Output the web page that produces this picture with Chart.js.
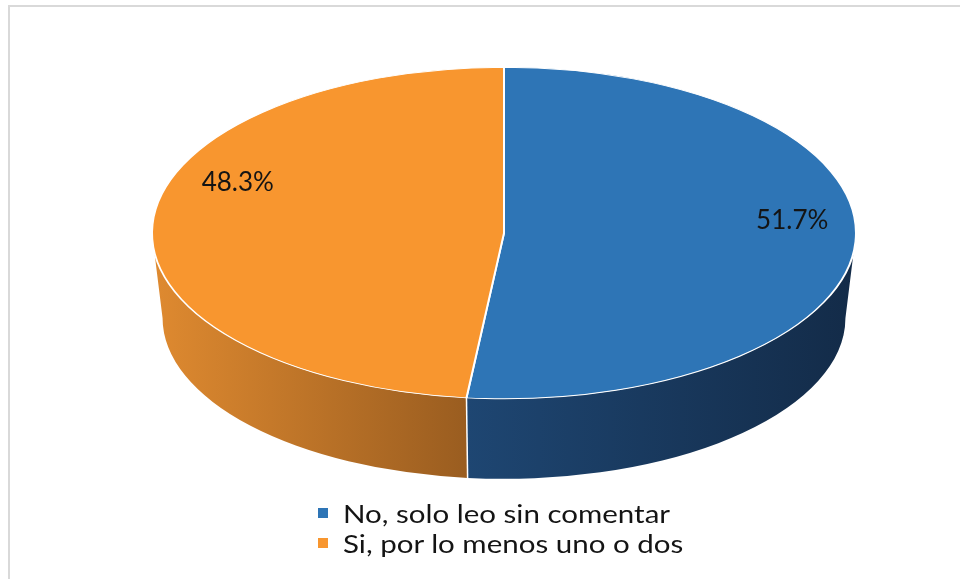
<!DOCTYPE html>
<html>
<head>
<meta charset="utf-8">
<script src="https://cdn.jsdelivr.net/npm/chart.js@4.4.1/dist/chart.umd.min.js"></script>
<style>
  html, body { margin: 0; padding: 0; background: #fff; }
  #wrap { position: relative; width: 960px; height: 579px; overflow: hidden; }
  #frame {
    position: absolute; left: 8px; top: 5px; width: 1000px; height: 620px;
    border-left: 2px solid #d9d9d9; border-top: 2px solid #d9d9d9;
  }
  #pie { position: absolute; left: 0; top: 0; }
  #legend {
    position: absolute; left: 318px; top: 498px;
    font-family: Lato, sans-serif; font-size: 25px; color: #141414;
  }
  .row { display: flex; align-items: center; height: 30px; white-space: nowrap; }
  .swatch { width: 10px; height: 10px; margin-right: 15px; flex: none; }
  .name { display: inline-block; transform: scaleX(1.18); transform-origin: 0 50%; }
</style>
</head>
<body>
<div id="wrap">
  <div id="frame"></div>
  <canvas id="pie" width="960" height="579"></canvas>
  <div id="legend"></div>
</div>
<script>
const categories = ['No, solo leo sin comentar', 'Si, por lo menos uno o dos'];
const shares = [51.7, 48.3];
const topColors = ['#2e75b6', '#f8962f'];
// side wall shading, left to right
const sideColors = [['#1e4672', '#132b48'], ['#df8a30', '#9a5d20']];

// tilted pie: squash the flat pie into an ellipse and extrude a wall under the front half
const tiltPie = {
  id: 'tiltPie',
  beforeDatasetsDraw(chart, args, opts) {
    const ctx = chart.ctx;
    const arcs = chart.getDatasetMeta(0).data;
    const { x: cx, y: cy, outerRadius: rx } = arcs[0];
    const ry = rx * opts.squash;
    const by = cy + opts.depth, brx = rx * opts.taper, bry = ry * opts.taper;

    ctx.save();
    arcs.forEach((arc, i) => {
      const s = Math.max(arc.startAngle, 0);
      const e = Math.min(arc.endAngle, Math.PI);
      if (e <= s) return;
      const xa = cx + rx * Math.cos(s), xb = cx + rx * Math.cos(e);
      const grad = ctx.createLinearGradient(Math.min(xa, xb), 0, Math.max(xa, xb), 0);
      grad.addColorStop(0, sideColors[i][0]);
      grad.addColorStop(1, sideColors[i][1]);
      ctx.beginPath();
      ctx.ellipse(cx, cy, rx, ry, 0, s, e);
      ctx.ellipse(cx, by, brx, bry, 0, e, s, true);
      ctx.closePath();
      ctx.fillStyle = grad;
      ctx.fill();
    });
    // white seams where slices meet on the wall
    ctx.strokeStyle = '#fff';
    ctx.lineWidth = 1.5;
    arcs.forEach((arc) => {
      const a = arc.endAngle;
      if (a <= 0 || a >= Math.PI) return;
      ctx.beginPath();
      ctx.moveTo(cx + rx * Math.cos(a), cy + ry * Math.sin(a));
      ctx.lineTo(cx + brx * Math.cos(a), by + bry * Math.sin(a));
      ctx.stroke();
    });
    ctx.restore();

    ctx.save();
    ctx.translate(cx, cy);
    ctx.scale(1, opts.squash);
    ctx.translate(-cx, -cy);
  },
  afterDatasetsDraw(chart) {
    chart.ctx.restore();
  },
  afterDraw(chart, args, opts) {
    const ctx = chart.ctx;
    const arcs = chart.getDatasetMeta(0).data;
    const values = chart.data.datasets[0].data;
    ctx.save();
    ctx.font = opts.labelFont;
    ctx.fillStyle = opts.labelColor;
    ctx.textAlign = 'center';
    ctx.textBaseline = 'middle';
    arcs.forEach((arc, i) => {
      const mid = (arc.startAngle + arc.endAngle) / 2;
      const r = arc.outerRadius * opts.labelRadius;
      const x = arc.x + r * Math.cos(mid) + opts.labelNudge[i][0];
      const y = arc.y + r * opts.squash * Math.sin(mid) + opts.labelNudge[i][1];
      ctx.fillText(values[i].toFixed(1) + '%', x, y);
    });
    ctx.restore();
  }
};

const chart = new Chart(document.getElementById('pie'), {
  type: 'pie',
  data: {
    labels: categories,
    datasets: [{
      data: shares,
      backgroundColor: topColors,
      borderColor: '#ffffff',
      borderWidth: 2,
      radius: 352,
      clip: false
    }]
  },
  options: {
    responsive: false,
    animation: false,
    layout: { padding: { left: 48, right: 0, top: 0, bottom: 113 } },
    plugins: {
      legend: { display: false },
      tooltip: { enabled: false },
      tiltPie: {
        squash: 0.471,
        depth: 85,
        taper: 0.97,
        labelRadius: 0.82,
        labelNudge: [[0, -20], [22, -43]],
        labelFont: '26px Lato',
        labelColor: '#141414'
      }
    }
  },
  plugins: [tiltPie]
});

const legend = document.getElementById('legend');
categories.forEach((name, i) => {
  const row = document.createElement('div');
  row.className = 'row';
  const sw = document.createElement('span');
  sw.className = 'swatch';
  sw.style.background = topColors[i];
  const txt = document.createElement('span');
  txt.className = 'name';
  txt.textContent = name;
  row.appendChild(sw);
  row.appendChild(txt);
  legend.appendChild(row);
});
</script>
</body>
</html>
